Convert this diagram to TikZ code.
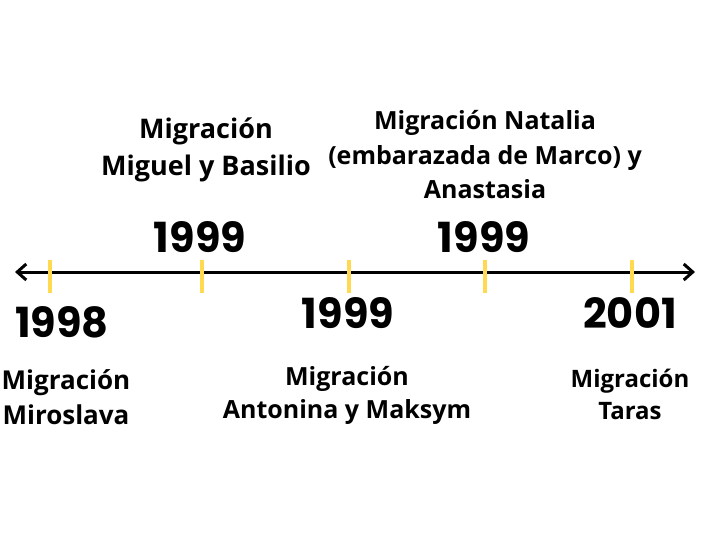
\documentclass[tikz,border=0pt]{standalone}
\usepackage{fontspec}
\setmainfont{Open Sans}
\newfontfamily\yearfont{Poppins}
\usepackage{tikz}
\usetikzlibrary{arrows.meta,positioning}
\definecolor{tickYellow}{RGB}{255,217,80}

\tikzset{
  year/.style={font=\yearfont\bfseries\fontsize{41.5}{41.5}\selectfont, inner sep=0pt},
  event/.style={align=center, inner sep=0pt},
  tick/.style={tickYellow, line width=3.5pt}
}
\newcommand{\evfont}[2]{\bfseries\fontsize{#1}{#2}\selectfont}

\begin{document}
\begin{tikzpicture}[x=1pt,y=-1pt]
    \useasboundingbox[fill=white] (0,0) rectangle (721,543);

    % the time axis
    \coordinate (start) at (15,272);
    \coordinate (end) at (695,272);
    \draw[line width=3pt, {Straight Barb[length=9pt,width=16pt,line width=3pt]}-{Straight Barb[length=9pt,width=16pt,line width=3pt]}] (start) -- (end);

    % ticks
    \foreach \x in {50,202,349,485,632}
      \draw[tick] (\x,260) -- (\x,293);

    % years
    \node[year] (y1998) at (62,322) {1998};
    \node[year] (y1999a) at (200,237) {1999};
    \node[year] (y1999b) at (348,313) {1999};
    \node[year] (y1999c) at (484,237) {1999};
    \node[year] (y2001) at (630,313) {2001};

    % events
    \node[event, font=\evfont{26}{35}] (miroslava) at (66,397) {Migración\\ Miroslava};
    \node[event, font=\evfont{27}{37}] (basilio) at (206,150) {Migración\\Miguel y Basilio};
    \node[event, font=\evfont{25}{33}] (maksym) at (347,395) {Migración\\Antonina y Maksym};
    \node[event, font=\evfont{25}{34.5}] (natalia) at (485,155) {Migración Natalia\\(embarazada de Marco) y\\Anastasia};
    \node[event, font=\evfont{24}{32}] (taras) at (630,394) {Migración\\Taras};
  \end{tikzpicture}
\end{document}
